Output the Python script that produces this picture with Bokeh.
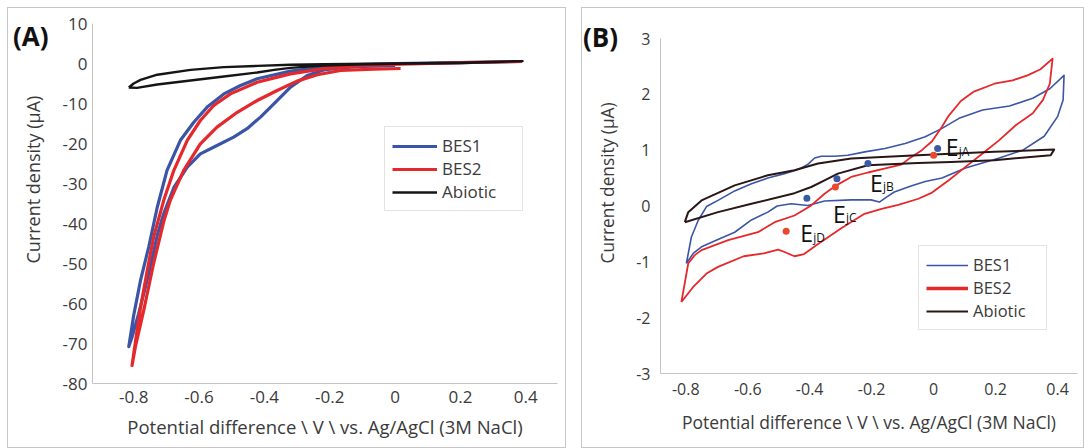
import math
from bokeh.plotting import figure
from bokeh.models import Range1d, FixedTicker, Legend, LegendItem, Label, Spacer, Title, Div
from bokeh.layouts import row, column
from bokeh.embed import file_html
from bokeh.resources import INLINE

FONT = "Open Sans"
TXT = "#3a3a3a"
AXC = "#c4c4c4"
BLUE = "#3b55a6"
RED = "#e5282c"
BLACK = "#151515"
DOT_BLUE = "#3a5aa8"
DOT_RED = "#e8482e"

# ---------------- ticks ----------------
x_ticks = [-0.8, -0.6, -0.4, -0.2, 0.0, 0.2, 0.4]
x_tick_labels = ["-0.8", "-0.6", "-0.4", "-0.2", "0", "0.2", "0.4"]
yA_ticks = [10, 0, -10, -20, -30, -40, -50, -60, -70, -80]
yA_tick_labels = ["10", "0", "-10", "-20", "-30", "-40", "-50", "-60", "-70", "-80"]
yB_ticks = [3, 2, 1, 0, -1, -2, -3]
yB_tick_labels = ["3", "2", "1", "0", "-1", "-2", "-3"]

# ---------------- data: panel A ----------------
a_bes1_x = [0.0, -0.116, -0.167, -0.218, -0.269, -0.32, -0.371, -0.412, -0.453, -0.494,
            -0.545, -0.596, -0.636, -0.677, -0.708, -0.728, -0.744, -0.764, -0.785, -0.805,
            -0.815, -0.8, -0.779, -0.754, -0.728, -0.698, -0.657, -0.616, -0.575, -0.524,
            -0.473, -0.422, -0.32, -0.218, -0.116, 0.0, 0.2, 0.388]
a_bes1_y = [-0.5, -0.8, -1.1, -1.6, -3.0, -5.9, -10.1, -13.4, -16.3, -18.4,
            -20.5, -22.6, -25.9, -31.0, -37.5, -43.0, -49.0, -55.9, -62.6, -68.4,
            -70.8, -63.0, -54.2, -45.9, -36.0, -26.7, -19.2, -14.7, -10.9, -7.6,
            -5.5, -3.8, -1.9, -0.9, -0.3, 0.0, 0.2, 0.5]

a_bes2_x = [0.017, -0.065, -0.167, -0.238, -0.3, -0.361, -0.422, -0.483, -0.545, -0.596,
            -0.647, -0.688, -0.708, -0.739, -0.77, -0.795, -0.805, -0.79, -0.779, -0.759,
            -0.739, -0.708, -0.677, -0.636, -0.596, -0.555, -0.504, -0.422, -0.32, -0.218,
            -0.116, -0.014, 0.2, 0.388]
a_bes2_y = [-1.25, -1.4, -1.75, -2.8, -4.4, -6.75, -9.25, -12.2, -15.9, -20.1,
            -26.7, -34.2, -39.5, -50.0, -62.0, -70.9, -75.5, -67.0, -61.0, -52.0,
            -43.4, -34.2, -26.7, -19.2, -14.25, -10.5, -7.6, -4.7, -2.6, -1.3,
            -0.6, -0.25, 0.2, 0.5]

a_abio_x = [-0.815, -0.8, -0.779, -0.728, -0.626, -0.524, -0.422, -0.32, -0.218, 0.0,
            0.2, 0.39, 0.2, 0.0, -0.116, -0.218, -0.32, -0.37, -0.422, -0.524,
            -0.626, -0.728, -0.79, -0.815]
a_abio_y = [-6.0, -5.0, -4.1, -2.8, -1.6, -0.9, -0.6, -0.3, -0.2, 0.0,
            0.2, 0.6, 0.1, -0.1, -0.25, -0.5, -1.1, -1.6, -2.25, -3.25,
            -4.25, -5.25, -6.1, -6.0]

# ---------------- data: panel B ----------------
b_bes1_x = [-0.798, -0.782, -0.76, -0.733, -0.696, -0.642, -0.588, -0.535, -0.481, -0.45,
            -0.427, -0.405, -0.384, -0.363, -0.32, -0.277, -0.222, -0.157, -0.092, -0.027,
            0.027, 0.082, 0.158, 0.245, 0.32, 0.375, 0.421, 0.418, 0.4, 0.357,
            0.288, 0.212, 0.103, 0.027, -0.027, -0.073, -0.127, -0.152, -0.175, -0.202,
            -0.266, -0.352, -0.406, -0.46, -0.505, -0.535, -0.588, -0.642, -0.696, -0.749,
            -0.776, -0.798]
b_bes1_y = [-1.03, -0.56, -0.26, -0.01, 0.1, 0.27, 0.4, 0.5, 0.58, 0.63,
            0.68, 0.75, 0.86, 0.89, 0.89, 0.91, 0.97, 1.03, 1.12, 1.24,
            1.39, 1.57, 1.72, 1.79, 1.93, 2.1, 2.34, 1.9, 1.6, 1.25,
            1.0, 0.86, 0.68, 0.5, 0.44, 0.36, 0.25, 0.16, 0.07, 0.11,
            0.11, 0.09, 0.01, 0.04, 0.0, -0.11, -0.25, -0.47, -0.6, -0.73,
            -0.85, -1.03]

b_bes2_x = [-0.814, -0.792, -0.771, -0.749, -0.663, -0.567, -0.513, -0.449, -0.395, -0.352,
            -0.314, -0.266, -0.212, -0.159, -0.105, -0.081, -0.038, -0.005, 0.027, 0.049,
            0.088, 0.13, 0.196, 0.255, 0.303, 0.345, 0.384, 0.375, 0.353, 0.32,
            0.266, 0.212, 0.158, 0.103, 0.049, -0.005, -0.049, -0.114, -0.168, -0.223,
            -0.298, -0.373, -0.418, -0.449, -0.483, -0.502, -0.548, -0.613, -0.696, -0.733,
            -0.776, -0.814]
b_bes2_y = [-1.72, -1.03, -0.88, -0.79, -0.61, -0.47, -0.29, -0.17, 0.01, 0.22,
            0.37, 0.52, 0.6, 0.67, 0.74, 0.84, 1.0, 1.16, 1.42, 1.62,
            1.88, 2.05, 2.19, 2.25, 2.34, 2.45, 2.64, 2.19, 1.9, 1.66,
            1.45, 1.18, 0.94, 0.7, 0.46, 0.24, 0.13, 0.02, -0.05, -0.14,
            -0.4, -0.68, -0.86, -0.9, -0.82, -0.78, -0.85, -0.9, -1.09, -1.21,
            -1.45, -1.72]

b_abio_x = [-0.803, -0.792, -0.749, -0.642, -0.535, -0.449, -0.373, -0.266, -0.051, 0.196,
            0.389, 0.378, 0.196, 0.056, -0.051, -0.212, -0.309, -0.352, -0.395, -0.449,
            -0.588, -0.696, -0.803]
b_abio_y = [-0.29, -0.11, 0.1, 0.37, 0.55, 0.64, 0.76, 0.85, 0.91, 0.97,
            1.01, 0.91, 0.82, 0.79, 0.77, 0.73, 0.58, 0.46, 0.34, 0.23,
            0.04, -0.11, -0.29]

dot_blue_x = [0.013, -0.212, -0.312, -0.409]
dot_blue_y = [1.03, 0.76, 0.49, 0.14]
dot_red_x = [0.0, -0.317, -0.476]
dot_red_y = [0.91, 0.34, -0.45]
ej_subscripts = ["jA", "jB", "jC", "jD"]
legend_only = [float("nan")]


def style(p, yticks, ylabels, tick_px, lab_px, xlab, x_std, xl_std, y_std):
    p.xgrid.grid_line_color = None
    p.ygrid.grid_line_color = None
    for ax in (p.xaxis[0], p.yaxis[0]):
        ax.axis_line_color = AXC
        ax.axis_line_width = 1
        ax.major_tick_line_color = None
        ax.minor_tick_line_color = None
        ax.major_tick_out = 0
        ax.major_tick_in = 0
        ax.major_label_text_font = FONT
        ax.major_label_text_font_size = tick_px
        ax.major_label_text_color = TXT
    p.xaxis.ticker = FixedTicker(ticks=x_ticks)
    p.xaxis.major_label_overrides = {t: s for t, s in zip(x_ticks, x_tick_labels)}
    p.yaxis.ticker = FixedTicker(ticks=yticks)
    p.yaxis.major_label_overrides = {t: s for t, s in zip(yticks, ylabels)}
    p.xaxis.major_label_standoff = x_std
    p.yaxis.major_label_standoff = y_std
    p.xaxis.axis_label = xlab
    p.xaxis.axis_label_text_font = FONT
    p.xaxis.axis_label_text_font_size = lab_px
    p.xaxis.axis_label_text_font_style = "normal"
    p.xaxis.axis_label_text_color = TXT
    p.xaxis.axis_label_standoff = xl_std


def panel_tag(text, left, top):
    return Div(text=text, width=60, height=32,
               styles={"position": "absolute", "left": f"{left}px", "top": f"{top}px",
                       "font-family": FONT, "font-size": "26px", "font-weight": "bold",
                       "color": "#111111", "line-height": "1", "z-index": "5"})


XLAB = "Potential difference \\ V \\ vs. Ag/AgCl (3M NaCl)"
YLAB = "Current density (μA)"
FRAME = {"border": "1px solid #c6c6c6", "box-sizing": "border-box",
         "overflow": "hidden", "position": "relative", "background": "white"}

# ---------------- Panel A ----------------
pA = figure(width=556, height=439, x_range=Range1d(-0.926, 0.497), y_range=Range1d(-80, 10),
            output_backend="svg", toolbar_location=None,
            min_border_left=84, min_border_right=7, min_border_top=15, min_border_bottom=64,
            outline_line_color=None, background_fill_color="white", border_fill_color="white")
style(pA, yA_ticks, yA_tick_labels, "17px", "18.5px", XLAB, 7, 8, 5)
pA.add_layout(Title(text=YLAB, align="left", offset=120, standoff=25, vertical_align="top",
                    text_font=FONT, text_font_size="18px", text_font_style="normal",
                    text_color=TXT), "left")

rA1 = pA.line(a_bes1_x, a_bes1_y, line_color=BLUE, line_width=3.2, line_join="round")
rA2 = pA.line(a_bes2_x, a_bes2_y, line_color=RED, line_width=3.2, line_join="round")
rA3 = pA.line(a_abio_x, a_abio_y, line_color=BLACK, line_width=2.4, line_join="round")
lgA = Legend(items=[LegendItem(label="BES1", renderers=[rA1]),
                    LegendItem(label="BES2", renderers=[rA2]),
                    LegendItem(label="Abiotic", renderers=[rA3])],
             location=(292, 172), padding=7, spacing=0, margin=0,
             glyph_width=45, glyph_height=20, label_height=20, label_width=73,
             label_standoff=5, label_text_font=FONT, label_text_font_size="17px",
             label_text_color=TXT, border_line_color="#c8c8c8", border_line_width=1,
             background_fill_color="white", background_fill_alpha=1)
pA.add_layout(lgA)

# ---------------- Panel B ----------------
pB = figure(width=500, height=424, x_range=Range1d(-0.8815, 0.4644), y_range=Range1d(-3, 3),
            output_backend="svg", toolbar_location=None,
            min_border_left=77, min_border_right=5, min_border_top=15, min_border_bottom=74,
            outline_line_color=None, background_fill_color="white", border_fill_color="white")
style(pB, yB_ticks, yB_tick_labels, "16px", "17.5px", XLAB, 9, 12, 10)
pB.add_layout(Title(text=YLAB, align="left", offset=110, standoff=26, vertical_align="top",
                    text_font=FONT, text_font_size="17.3px", text_font_style="normal",
                    text_color=TXT), "left")

rB1 = pB.line(b_bes1_x, b_bes1_y, line_color=BLUE, line_width=1.6, line_join="round")
rB2 = pB.line(b_bes2_x, b_bes2_y, line_color=RED, line_width=1.8, line_join="round")
rB3 = pB.line(b_abio_x, b_abio_y, line_color="#2a1616", line_width=2.0, line_join="round")
pB.scatter(dot_blue_x, dot_blue_y, size=7, fill_color=DOT_BLUE, line_color=None)
pB.scatter(dot_red_x, dot_red_y, size=7, fill_color=DOT_RED, line_color=None)
legB2 = pB.line(legend_only, legend_only, line_color=RED, line_width=3.6)
lgB = Legend(items=[LegendItem(label="BES1", renderers=[rB1]),
                    LegendItem(label="BES2", renderers=[legB2]),
                    LegendItem(label="Abiotic", renderers=[rB3])],
             location=(258, 43), padding=7, spacing=0, margin=0,
             glyph_width=42, glyph_height=20, label_height=20, label_width=66,
             label_standoff=5, label_text_font=FONT, label_text_font_size="16.5px",
             label_text_color=TXT, border_line_color="#c8c8c8", border_line_width=1,
             background_fill_color="white", background_fill_alpha=1)
pB.add_layout(lgB)

ej_anchor_x = [dot_blue_x[0], dot_blue_x[1], dot_blue_x[2], dot_red_x[2]]
ej_anchor_y = [dot_blue_y[0], dot_blue_y[1], dot_blue_y[2], dot_red_y[2]]
ej_dx = [8, 2, -4, 14]
ej_dy = [1, -19, -35, -2]
for ax_, ay_, dx, dy, sub in zip(ej_anchor_x, ej_anchor_y, ej_dx, ej_dy, ej_subscripts):
    pB.add_layout(Label(x=ax_, y=ay_, x_offset=dx, y_offset=dy, text="E",
                        text_align="left", text_baseline="alphabetic", text_font=FONT,
                        text_font_size="23px", text_color="#111111"))
    pB.add_layout(Label(x=ax_, y=ay_, x_offset=dx + 13, y_offset=dy - 4, text=sub,
                        text_align="left", text_baseline="alphabetic", text_font=FONT,
                        text_font_size="12px", text_color="#111111"))

wrapA = column(pA, panel_tag("(A)", 0, 10), width=559, height=441, styles=FRAME)
wrapB = column(Spacer(height=15), pB, panel_tag("(B)", -4, 11), width=503, height=441, styles=FRAME)

layout = column(Spacer(height=7),
                row(Spacer(width=7), wrapA, Spacer(width=15), wrapB))

open("out.html", "w").write(file_html(layout, INLINE))
